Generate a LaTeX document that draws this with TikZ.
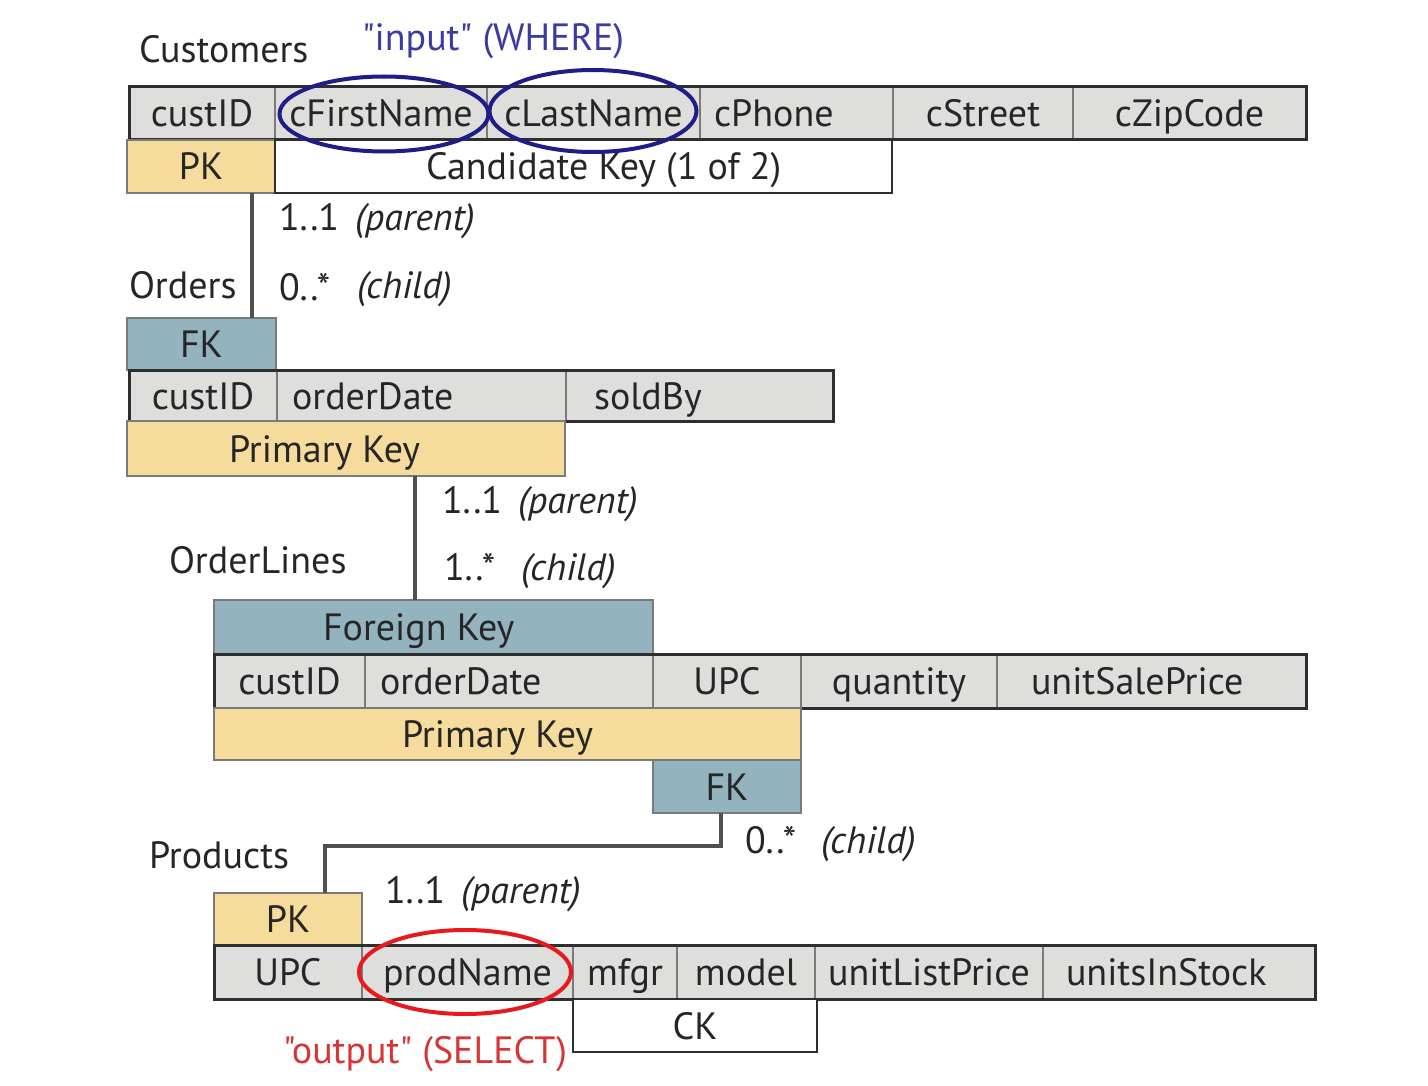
\documentclass[tikz,border=0pt]{standalone}
\usepackage{fontspec}
\setmainfont{PT Sans}[Ligatures=TeXOff]
\usetikzlibrary{shapes.geometric}
\definecolor{cellgray}{HTML}{DEDFDC}
\definecolor{pkyellow}{HTML}{F5DC9C}
\definecolor{fkteal}{HTML}{93B4BE}
\definecolor{edgedark}{HTML}{2E2E2E}
\definecolor{edgegray}{HTML}{7A7A7A}
\definecolor{linkgray}{HTML}{505050}
\definecolor{navy}{HTML}{1E1E88}
\definecolor{inkblue}{HTML}{3C3CA0}
\definecolor{ovalred}{HTML}{E8191E}
\definecolor{inkred}{HTML}{D83434}
% a table cell: style, name, left, top, right, bottom, text
\newcommand\dbcell[7]{%
  \pgfmathsetmacro\dbw{#5-#3}\pgfmathsetmacro\dbh{#6-#4}%
  \node[#1, minimum width=\dbw pt, minimum height=\dbh pt, anchor=north west] (#2) at (#3,#4) {#7};}
\begin{document}
\begin{tikzpicture}[x=1pt,y=-1pt,
  every node/.style={font=\fontsize{38}{44}\selectfont, text=black!85},
  txt/.style={inner sep=0pt, outer sep=0pt, text height=27pt, text depth=0pt},
  box/.style={txt, line width=1.5pt},
  field/.style={box, fill=cellgray, draw=edgegray},
  pkbox/.style={box, fill=pkyellow, draw=edgegray},
  fkbox/.style={box, fill=fkteal, draw=edgegray},
  ckbox/.style={box, fill=white, draw=edgedark, line width=2.5pt},
  rowedge/.style={draw=edgedark, line width=3pt},
  link/.style={draw=linkgray, line width=3.5pt},
  tag/.style={txt, anchor=west},
  oval/.style={ellipse, draw, line width=4pt, inner sep=0pt},
]
\fill[white] (0,0) rectangle (1428,1086);
\useasboundingbox (0,0) rectangle (1428,1086);

% ---------- Customers ----------
\node[tag] (tCust) at (139,49) {Customers};
\node[tag, text=inkblue] (tIn) at (362,37) {"input" (WHERE)};
\dbcell{field}{cId}{129}{87}{275}{140}{custID}
\dbcell{field}{cFirst}{275}{87}{487}{140}{cFirstName}
\dbcell{field}{cLast}{487}{87}{700}{140}{cLastName}
\dbcell{field}{cPhone}{700}{87}{893}{140}{}
\node[tag] at ([xshift=14]cPhone.west) {cPhone};
\dbcell{field}{cStreet}{893}{87}{1073}{140}{cStreet}
\dbcell{field}{cZip}{1073}{87}{1306}{140}{cZipCode}
\draw[rowedge] (cId.north west) rectangle (cZip.south east);
\dbcell{pkbox}{cPK}{127}{140}{275}{193}{PK}
\dbcell{ckbox}{cCK}{275}{140}{892}{193}{}
\node[tag] at ([xshift=151]cCK.west) {Candidate Key (1 of 2)};
\node[oval, draw=navy, minimum width=209, minimum height=75] (ovFirst) at (384,114) {};
\node[oval, draw=navy, minimum width=207, minimum height=82] (ovLast) at (593,111) {};

% ---------- Customers -> Orders ----------
\node[tag] (k1a) at (279,217) {1..1};
\node[tag] (k1b) at (355,217) {\itshape(parent)};
\node[tag] (tOrd) at (129,285) {Orders};
\node[tag] (k2a) at (279,287) {0..*};
\node[tag] (k2b) at (357,285) {\itshape(child)};

% ---------- Orders ----------
\dbcell{fkbox}{oFK}{127}{318}{276}{370}{FK}
\dbcell{field}{oId}{129}{370}{277}{421}{custID}
\dbcell{field}{oDate}{277}{370}{566}{421}{}
\node[tag] at ([xshift=15]oDate.west) {orderDate};
\dbcell{field}{oSold}{566}{370}{833}{421}{}
\node[tag] at ([xshift=28]oSold.west) {soldBy};
\draw[rowedge] (oId.north west) rectangle (oSold.south east);
\dbcell{pkbox}{oPK}{127}{421}{565}{476}{}
\node[tag] at ([xshift=102]oPK.west) {Primary Key};

\draw[link] ([xshift=51]cPK.south) -- ([xshift=51]cPK.south |- oFK.north);

% ---------- Orders -> OrderLines ----------
\node[tag] (k3a) at (442,500) {1..1};
\node[tag] (k3b) at (518,500) {\itshape(parent)};
\node[tag] (tLine) at (169,560) {OrderLines};
\node[tag] (k4a) at (444,567) {1..*};
\node[tag] (k4b) at (521,567) {\itshape(child)};

% ---------- OrderLines ----------
\dbcell{fkbox}{lFK}{214}{600}{653}{654}{}
\node[tag] at ([xshift=109]lFK.west) {Foreign Key};
\dbcell{field}{lId}{214}{654}{365}{708}{custID}
\dbcell{field}{lDate}{365}{654}{653}{708}{}
\node[tag] at ([xshift=15]lDate.west) {orderDate};
\dbcell{field}{lUPC}{653}{654}{801}{708}{UPC}
\dbcell{field}{lQty}{801}{654}{997}{708}{quantity}
\dbcell{field}{lPrice}{997}{654}{1306}{708}{}
\node[tag] at ([xshift=34]lPrice.west) {unitSalePrice};
\draw[rowedge] (lId.north west) rectangle (lPrice.south east);
\dbcell{pkbox}{lPK}{214}{708}{801}{760}{}
\node[tag] at ([xshift=188]lPK.west) {Primary Key};
\dbcell{fkbox}{lFK2}{653}{760}{801}{813}{FK}

\draw[link] ([xshift=69]oPK.south) -- ([xshift=69]oPK.south |- lFK.north);

% ---------- OrderLines -> Products ----------
\node[tag] (k5a) at (745,840) {0..*};
\node[tag] (k5b) at (821,840) {\itshape(child)};
\node[tag] (tProd) at (149,855) {Products};
\node[tag] (k6a) at (385,890) {1..1};
\node[tag] (k6b) at (461,890) {\itshape(parent)};

% ---------- Products ----------
\dbcell{pkbox}{pPK}{214}{893}{362}{945}{PK}
\dbcell{field}{pUPC}{214}{945}{362}{999}{UPC}
\dbcell{field}{pName}{362}{945}{573}{999}{prodName}
\dbcell{field}{pMfgr}{573}{945}{677}{999}{mfgr}
\dbcell{field}{pModel}{677}{945}{815}{999}{model}
\dbcell{field}{pList}{815}{945}{1043}{999}{unitListPrice}
\dbcell{field}{pStock}{1043}{945}{1315}{999}{}
\node[tag] at ([xshift=23]pStock.west) {unitsInStock};
\draw[rowedge] (pUPC.north west) rectangle (pStock.south east);
\dbcell{ckbox}{pCK}{573}{999}{817}{1052}{CK}
\node[oval, draw=ovalred, minimum width=212, minimum height=84] (ovName) at (465,972) {};
\node[tag, text=inkred] (tOut) at (283,1050) {"output" (SELECT)};

\draw[link] ([xshift=-6]lFK2.south) -- ++(0,33) -| ([xshift=37]pPK.north);
\end{tikzpicture}
\end{document}
